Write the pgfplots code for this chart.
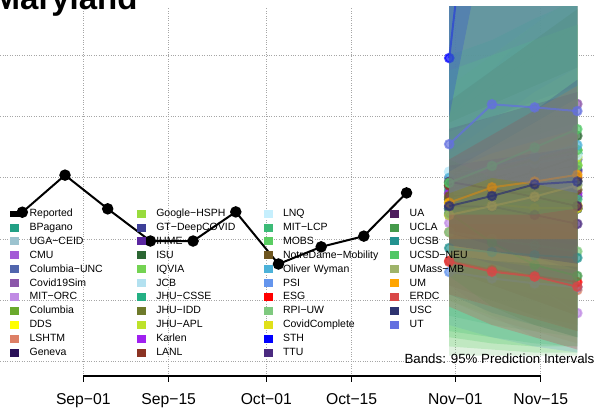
\documentclass[border=0pt]{standalone}
\usepackage{pgfplots}
\pgfplotsset{compat=1.18}
\usepackage{fontspec}
\setmainfont{Liberation Sans}
\definecolor{cBPagano}{RGB}{34,160,133}
\definecolor{cUGA}{RGB}{156,195,207}
\definecolor{cCMU}{RGB}{163,91,214}
\definecolor{cColUNC}{RGB}{81,102,173}
\definecolor{cCovSim}{RGB}{139,86,169}
\definecolor{cMITORC}{RGB}{192,138,228}
\definecolor{cColumbia}{RGB}{106,169,44}
\definecolor{cDDS}{RGB}{255,255,0}
\definecolor{cLSHTM}{RGB}{221,127,102}
\definecolor{cGeneva}{RGB}{42,17,88}
\definecolor{cGoogle}{RGB}{152,219,61}
\definecolor{cGT}{RGB}{61,63,152}
\definecolor{cIHME}{RGB}{90,38,160}
\definecolor{cISU}{RGB}{43,102,51}
\definecolor{cIQVIA}{RGB}{116,211,82}
\definecolor{cJCB}{RGB}{179,225,240}
\definecolor{cJHUCSSE}{RGB}{36,176,132}
\definecolor{cJHUIDD}{RGB}{110,122,43}
\definecolor{cJHUAPL}{RGB}{189,226,42}
\definecolor{cKarlen}{RGB}{160,32,240}
\definecolor{cLANL}{RGB}{139,51,35}
\definecolor{cLNQ}{RGB}{198,239,253}
\definecolor{cMITLCP}{RGB}{60,187,119}
\definecolor{cMOBS}{RGB}{90,205,98}
\definecolor{cND}{RGB}{110,86,32}
\definecolor{cOW}{RGB}{76,178,217}
\definecolor{cPSI}{RGB}{100,149,237}
\definecolor{cESG}{RGB}{255,0,0}
\definecolor{cRPI}{RGB}{127,201,127}
\definecolor{cCC}{RGB}{224,224,26}
\definecolor{cSTH}{RGB}{0,0,255}
\definecolor{cTTU}{RGB}{75,42,128}
\definecolor{cUA}{RGB}{78,29,94}
\definecolor{cUCLA}{RGB}{69,154,75}
\definecolor{cUCSB}{RGB}{35,146,143}
\definecolor{cUCSD}{RGB}{80,199,101}
\definecolor{cUMass}{RGB}{159,180,106}
\definecolor{cUM}{RGB}{255,165,0}
\definecolor{cERDC}{RGB}{217,71,71}
\definecolor{cUSC}{RGB}{46,51,112}
\definecolor{cUT}{RGB}{100,112,224}
\pgfplotsset{
  band/.style={fill=#1, fill opacity=0.25, draw=none, forget plot},
  fline/.style={color=#1, opacity=0.7, line width=2pt, mark=*, mark size=4.3pt,
    mark options={solid, fill=#1, draw=none}, forget plot},
  legsq/.style={legend image code/.code={\fill[#1] (0pt,-3.5pt) rectangle (8pt,3.5pt);}},
}
% model: colour, band polygon (upper Oct31..Nov21, lower Nov21..Oct31), median line
\newcommand{\model}[3]{%
  \addplot[band=#1] coordinates {#2};
  \addplot[fline=#1] coordinates {#3};
}
\begin{document}
\begin{tikzpicture}
\begin{axis}[
  scale only axis, width=622.1pt, height=369pt,
  xmin=-16, xmax=86, ymin=-4.63, ymax=115.76,
  clip marker paths=true,
  axis line style={draw=none},
  xtick={0,14,30,44,61,75},
  xticklabels={Sep−01,Sep−15,Oct−01,Oct−15,Nov−01,Nov−15},
  xtick pos=bottom, ytick pos=left,
  ytick={0,20,40,60,80,100}, yticklabels={},
  xmajorgrids, ymajorgrids,
  grid style={dotted, black!35, line width=0.9pt},
  tick align=outside, major tick length=6pt,
  x tick style={black, line width=1.2pt},
  y tick style={draw=none},
  xticklabel style={font=\fontsize{15.7}{18}\selectfont, yshift=-8.5pt},
  legend columns=4,
  legend cell align=left,
  legend style={at={(0.03903,0.4564)}, anchor=north west,
    draw=none, fill=none, inner sep=0pt,
    font=\fontsize{10.5}{12}\selectfont,
    row sep=2.95pt, column sep=0pt,
    nodes={inner sep=0pt, text width=107.3pt, text height=8.5pt, text depth=2.5pt, align=left},
    /tikz/every odd column/.append style={column sep=11pt}},
]
% ---- forecasts (day 0 = Sep 1; 60=Oct 31, 67=Nov 7, 74=Nov 14, 81=Nov 21)
\model{cBPagano}{(60,80)(67,90)(74,100)(81,110)(81,20)(74,22)(67,25)(60,30)}{(60,53.5)(67,52)(74,51)(81,50)}
\model{cUGA}{(60,118)(67,125)(74,130)(81,140)(81,28)(74,30)(67,32)(60,35)}{(60,55)(67,56)(74,57)(81,58)}
\model{cCMU}{(60,80)(67,95)(74,110)(81,120)(81,30)(74,33)(67,35)(60,38)}{(60,54.7)(67,57)(74,60)(81,62)}
\model{cColUNC}{(60,116)(67,125)(74,130)(81,135)(81,34)(74,36)(67,38)(60,40)}{(60,57)(67,60)(74,63)(81,66)}
\model{cCovSim}{(60,125)(67,140)(74,150)(81,160)(81,50)(74,48)(67,45)(60,42)}{(60,60)(67,70)(74,78)(81,84.1)}
\model{cMITORC}{(60,62)(67,55)(74,48)(81,40)(81,4)(74,8)(67,15)(60,25)}{(60,45.3)(67,35)(74,25)(81,15.9)}
\model{cColumbia}{(60,118)(67,130)(74,140)(81,150)(81,15)(74,20)(67,25)(60,30)}{(60,58.6)(67,62)(74,66)(81,69)}
\model{cDDS}{(60,62)(67,66)(74,70)(81,74)(81,30)(74,31)(67,33)(60,35)}{(60,47.9)(67,49)(74,50)(81,51)}
\model{cLSHTM}{(60,66)(67,60)(74,55)(81,50)(81,6)(74,10)(67,14)(60,20)}{(60,42.3)(67,35)(74,28)(81,23.4)}
\model{cGeneva}{(60,62)(67,64)(74,66)(81,68)(81,32)(74,34)(67,36)(60,38)}{(60,50)(67,50)(74,50)(81,50)}
\model{cGoogle}{(60,90)(67,100)(74,110)(81,120)(81,32)(74,33)(67,34)(60,35)}{(60,55)(67,58)(74,61)(81,64.2)}
\model{cGT}{(60,118)(67,125)(74,135)(81,145)(81,10)(74,15)(67,20)(60,25)}{(60,53)(67,56)(74,59)(81,62.6)}
\model{cIHME}{(60,60)(67,64)(74,68)(81,72)(81,40)(74,40)(67,40)(60,40)}{(60,49.8)(67,51)(74,52.5)(81,54)}
\model{cISU}{(60,120)(67,130)(74,140)(81,150)(81,35)(74,35)(67,35)(60,35)}{(60,57.5)(67,63)(74,68)(81,73.7)}
\model{cIQVIA}{(60,95)(67,100)(74,105)(81,110)(81,10)(74,12)(67,15)(60,20)}{(60,58)(67,60)(74,62)(81,64)}
\model{cJCB}{(60,118)(67,125)(74,130)(81,135)(81,39)(74,41)(67,43)(60,45)}{(60,62)(67,64)(74,66)(81,68)}
\model{cJHUCSSE}{(60,100)(67,105)(74,112)(81,118)(81,5)(74,6)(67,8)(60,10)}{(60,56)(67,60)(74,64)(81,68)}
\model{cJHUIDD}{(60,120)(67,130)(74,140)(81,150)(81,12)(74,15)(67,20)(60,25)}{(60,53)(67,55)(74,57)(81,59)}
\model{cJHUAPL}{(60,68)(67,78)(74,88)(81,96)(81,44)(74,42)(67,40)(60,38)}{(60,52)(67,58)(74,62)(81,66.8)}
\model{cKarlen}{(60,66)(67,70)(74,74)(81,78)(81,38)(74,40)(67,42)(60,45)}{(60,55)(67,55)(74,55)(81,55)}
\model{cLANL}{(60,65)(67,68)(74,71)(81,74)(81,47)(74,48)(67,49)(60,50)}{(60,57.5)(67,58)(74,59)(81,60)}
\model{cLNQ}{(60,78)(67,84)(74,90)(81,96)(81,42)(74,44)(67,46)(60,48)}{(60,62)(67,62.3)(74,64.8)(81,67.4)}
\model{cMITLCP}{(60,85)(67,95)(74,105)(81,115)(81,8)(74,10)(67,12)(60,15)}{(60,50)(67,51)(74,52)(81,53)}
\model{cMOBS}{(60,95)(67,100)(74,105)(81,110)(81,3)(74,3)(67,4)(60,5)}{(60,58.6)(67,62)(74,66)(81,69.1)}
\model{cND}{(60,85)(67,95)(74,105)(81,115)(81,15)(74,20)(67,25)(60,30)}{(60,54)(67,55)(74,55.5)(81,56.1)}
\model{cOW}{(60,116)(67,122)(74,128)(81,135)(81,48)(74,48)(67,48)(60,48)}{(60,60)(67,64)(74,67)(81,70.7)}
\model{cPSI}{(60,48)(67,48)(74,48)(81,48)(81,3)(74,5)(67,8)(60,12)}{(60,29.3)(67,27.2)(74,25.6)(81,24.3)}
\model{cESG}{(60,45)(67,45)(74,45)(81,45)(81,10)(74,14)(67,18)(60,22)}{(60,32.9)(67,30)(74,28)(81,26)}
\model{cRPI}{(60,75)(67,80)(74,85)(81,90)(81,2)(74,2)(67,2)(60,2)}{(60,42.3)(67,40)(74,38)(81,36)}
\model{cCC}{(60,62)(67,68)(74,72)(81,76)(81,30)(74,31)(67,33)(60,35)}{(60,47.9)(67,51.5)(74,50.1)(81,50.1)}
\model{cSTH}{(60,140)(67,320)(74,450)(81,550)(81,250)(74,200)(67,150)(60,80)}{(60,99.1)(67,220)(74,300)(81,380)}
\model{cTTU}{(60,64)(67,66)(74,68)(81,70)(81,24)(74,28)(67,32)(60,36)}{(60,50.8)(67,50.6)(74,47.9)(81,45)}
\model{cUA}{(60,76)(67,80)(74,84)(81,88)(81,30)(74,34)(67,38)(60,42)}{(60,58.7)(67,56.4)(74,53.8)(81,50.8)}
\model{cUCLA}{(60,66)(67,60)(74,56)(81,52)(81,8)(74,12)(67,18)(60,28)}{(60,48.5)(67,38.9)(74,31.6)(81,28)}
\model{cUCSB}{(60,52)(67,55)(74,58)(81,62)(81,8)(74,12)(67,16)(60,22)}{(60,37.1)(67,35.8)(74,34.8)(81,33.9)}
\model{cUCSD}{(60,118)(67,128)(74,138)(81,148)(81,5)(74,5)(67,6)(60,8)}{(60,58.4)(67,63.9)(74,69.9)(81,75.9)}
\model{cUMass}{(60,62)(67,70)(74,78)(81,86)(81,31)(74,32)(67,33)(60,35)}{(60,47.9)(67,50.8)(74,53.9)(81,57.6)}
\model{cUM}{(60,66)(67,74)(74,82)(81,90)(81,40)(74,40)(67,40)(60,40)}{(60,51.9)(67,56.9)(74,58.8)(81,61)}
\model{cERDC}{(60,48)(67,48)(74,48)(81,50)(81,4)(74,8)(67,12)(60,18)}{(60,32.6)(67,29.4)(74,27.8)(81,24.5)}
\model{cUSC}{(60,66)(67,74)(74,82)(81,92)(81,32)(74,34)(67,36)(60,38)}{(60,50.8)(67,54.1)(74,57.9)(81,58.8)}
\model{cUT}{(60,120)(67,125)(74,135)(81,145)(81,55)(74,58)(67,60)(60,55)}{(60,71)(67,84)(74,83)(81,81.8)}
% ---- reported
\addplot[black, line width=2pt, mark=*, mark size=4.7pt, mark options={solid}, forget plot]
  coordinates {(-10,48.8)(-3,60.9)(4,49.9)(11,39.4)(18,39.4)(25,48.9)(32,31.9)(39,37.5)(46,41.0)(53,55.1)};
% ---- legend (row-major, 4 columns)
\addlegendimage{legend image code/.code={\fill[black] (0pt,-2.5pt) rectangle (8pt,2.5pt);\fill[black,overlay] (8pt,-2.5pt) rectangle (11pt,2.5pt);}}\addlegendentry{Reported}
\addlegendimage{legsq=cGoogle}\addlegendentry{Google−HSPH}
\addlegendimage{legsq=cLNQ}\addlegendentry{LNQ}
\addlegendimage{legsq=cUA}\addlegendentry{UA}
\addlegendimage{legsq=cBPagano}\addlegendentry{BPagano}
\addlegendimage{legsq=cGT}\addlegendentry{GT−DeepCOVID}
\addlegendimage{legsq=cMITLCP}\addlegendentry{MIT−LCP}
\addlegendimage{legsq=cUCLA}\addlegendentry{UCLA}
\addlegendimage{legsq=cUGA}\addlegendentry{UGA−CEID}
\addlegendimage{legsq=cIHME}\addlegendentry{IHME}
\addlegendimage{legsq=cMOBS}\addlegendentry{MOBS}
\addlegendimage{legsq=cUCSB}\addlegendentry{UCSB}
\addlegendimage{legsq=cCMU}\addlegendentry{CMU}
\addlegendimage{legsq=cISU}\addlegendentry{ISU}
\addlegendimage{legsq=cND}\addlegendentry{NotreDame−Mobility}
\addlegendimage{legsq=cUCSD}\addlegendentry{UCSD−NEU}
\addlegendimage{legsq=cColUNC}\addlegendentry{Columbia−UNC}
\addlegendimage{legsq=cIQVIA}\addlegendentry{IQVIA}
\addlegendimage{legsq=cOW}\addlegendentry{Oliver Wyman}
\addlegendimage{legsq=cUMass}\addlegendentry{UMass−MB}
\addlegendimage{legsq=cCovSim}\addlegendentry{Covid19Sim}
\addlegendimage{legsq=cJCB}\addlegendentry{JCB}
\addlegendimage{legsq=cPSI}\addlegendentry{PSI}
\addlegendimage{legsq=cUM}\addlegendentry{UM}
\addlegendimage{legsq=cMITORC}\addlegendentry{MIT−ORC}
\addlegendimage{legsq=cJHUCSSE}\addlegendentry{JHU−CSSE}
\addlegendimage{legsq=cESG}\addlegendentry{ESG}
\addlegendimage{legsq=cERDC}\addlegendentry{ERDC}
\addlegendimage{legsq=cColumbia}\addlegendentry{Columbia}
\addlegendimage{legsq=cJHUIDD}\addlegendentry{JHU−IDD}
\addlegendimage{legsq=cRPI}\addlegendentry{RPI−UW}
\addlegendimage{legsq=cUSC}\addlegendentry{USC}
\addlegendimage{legsq=cDDS}\addlegendentry{DDS}
\addlegendimage{legsq=cJHUAPL}\addlegendentry{JHU−APL}
\addlegendimage{legsq=cCC}\addlegendentry{CovidComplete}
\addlegendimage{legsq=cUT}\addlegendentry{UT}
\addlegendimage{legsq=cLSHTM}\addlegendentry{LSHTM}
\addlegendimage{legsq=cKarlen}\addlegendentry{Karlen}
\addlegendimage{legsq=cSTH}\addlegendentry{STH}
\addlegendimage{empty legend}\addlegendentry{}
\addlegendimage{legsq=cGeneva}\addlegendentry{Geneva}
\addlegendimage{legsq=cLANL}\addlegendentry{LANL}
\addlegendimage{legsq=cTTU}\addlegendentry{TTU}
\addlegendimage{empty legend}\addlegendentry{}
% ---- helper coordinates
\coordinate (axL) at (axis cs:0,-4.63);
\coordinate (axR) at (axis cs:75,-4.63);
\coordinate (bbSW) at (axis cs:-13.66,-16.38);
\coordinate (bbNE) at (axis cs:83.90,118.04);
\coordinate (ttl) at (axis cs:-14.89,114.78);
\coordinate (bnd) at (axis cs:83.82,-0.72);
\end{axis}
\draw[line width=1.2pt] (axL) -- (axR);
\node[anchor=base west, inner sep=0pt, font=\fontsize{33}{33}\selectfont\bfseries] at (ttl) {Maryland};
\node[anchor=base east, inner sep=0pt, font=\fontsize{13.3}{15}\selectfont] at (bnd) {Bands: 95\% Prediction Intervals};
\pgfresetboundingbox
\path[use as bounding box] (bbSW) rectangle (bbNE);
\end{tikzpicture}
\end{document}
